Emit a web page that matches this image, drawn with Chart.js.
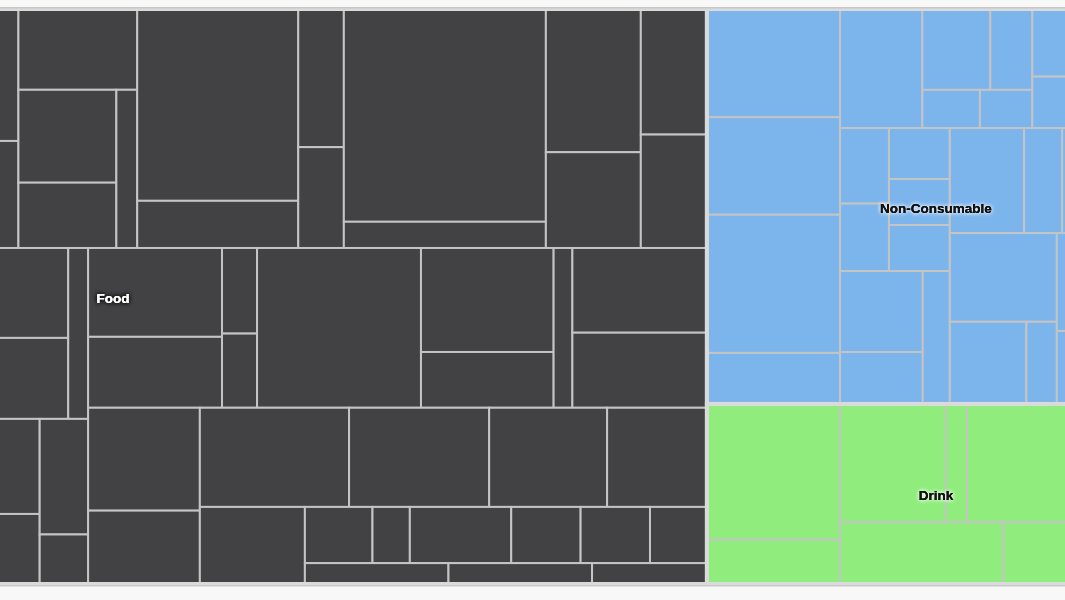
<!DOCTYPE html>
<html>
<head>
<meta charset="utf-8">
<script src="https://cdn.jsdelivr.net/npm/chart.js@4/dist/chart.umd.min.js"></script>
<style>
  html, body { margin: 0; padding: 0; background: #f8f8f8; }
  #wrap { width: 1065px; height: 600px; }
</style>
</head>
<body>
<div id="wrap"><canvas id="c" width="1065" height="600"></canvas></div>
<script>
// ---- Data (leaf values; nested arrays give the hierarchy, slice direction alternates by depth) ----
const groups = ['Food', 'Non-Consumable', 'Drink'];
const groupColors = ['#424245', '#7cb5ec', '#90ed7d'];

const foodTop = [
  [179, 177, 172],
  [257, 150],
  [143, 116],
  [96, [[91, 64], 33]],
  [309, 76],
  [63, 46],
  [430, 53],
  [136, 91],
  [83, 75]
];
const foodLowerLeft = [
  [[189, 206], 257, [151, 136], 34],
  [299, [146, 151], [152, 112], [56, 24]]
];
const foodLowerRight = [
  [[119, 95], [30, 26], 262, [138, 74], 30, [114, 101]],
  [[115, 82], [[148, 139, 117, 99], [81, [[38, 21, 57, 39, 39, 32], [30, 30, 24]]]]]
];
const nonConsumable = [
  [144, 130, 184, 68],
  [
    [98, [[55, 34], [22, 20]], [46, 35], 77],
    [
      [[[37, 33], [31, 28, 28]], [[67, 43], 36]],
      [[78, 40, 108], [[95, [63, 25]], [106, 79]]]
    ]
  ]
];
const drink = [
  [181, 59],
  [[125, 25, 157, 77], [101, 66, 34]]
];

const food = [foodTop, [foodLowerLeft, foodLowerRight]];
const groupNodes = [food, nonConsumable, drink];
const root = [food, [nonConsumable, drink]];

// visible (zoomed) window of the treemap, in layout units 0..1
const viewMin = 481 / 1646;
const viewMax = 1546 / 1646;

// ---- Layout (slice and dice) ----
function total(n) { return typeof n === 'number' ? n : n.reduce((a, c) => a + total(c), 0); }
const leaves = [];
const groupRects = [];
function layout(node, x0, y0, x1, y1, depth, g) {
  const gi = groupNodes.indexOf(node);
  if (gi >= 0) { g = gi; groupRects[gi] = { x0, y0, x1, y1 }; }
  if (typeof node === 'number') { leaves.push({ x0, y0, x1, y1, g, v: node }); return; }
  const t = total(node);
  let pos = depth % 2 === 0 ? x0 : y0;
  node.forEach(ch => {
    const f = total(ch) / t;
    if (depth % 2 === 0) {
      const e = pos + f * (x1 - x0);
      layout(ch, pos, y0, e, y1, depth + 1, g); pos = e;
    } else {
      const e = pos + f * (y1 - y0);
      layout(ch, x0, pos, x1, e, depth + 1, g); pos = e;
    }
  });
}
layout(root, 0, 0, 1, 1, 0, -1);

const treemapPlugin = {
  id: 'treemapDraw',
  beforeDatasetsDraw(chart) {
    const ctx = chart.ctx, xs = chart.scales.x, ys = chart.scales.y;
    const R = r => {
      const a = xs.getPixelForValue(r.x0), b = xs.getPixelForValue(r.x1);
      const c = ys.getPixelForValue(r.y0), d = ys.getPixelForValue(r.y1);
      return { l: Math.min(a, b), r: Math.max(a, b), t: Math.min(c, d), b: Math.max(c, d) };
    };
    ctx.save();
    const all = R({ x0: 0, y0: 0, x1: 1, y1: 1 });
    ctx.fillStyle = '#d4d4d4';
    ctx.fillRect(all.l, all.t - 2, all.r - all.l, all.b - all.t + 4);
    leaves.forEach(lf => {
      const p = R(lf);
      ctx.fillStyle = groupColors[lf.g];
      ctx.fillRect(p.l, p.t, p.r - p.l, p.b - p.t);
      ctx.strokeStyle = '#c4c4c4';
      ctx.lineWidth = 2;
      ctx.strokeRect(p.l, p.t, p.r - p.l, p.b - p.t);
    });
    groupRects.forEach(gr => {
      const p = R(gr);
      ctx.strokeStyle = '#dadada';
      ctx.lineWidth = 4;
      ctx.strokeRect(p.l, p.t, p.r - p.l, p.b - p.t);
    });
    ctx.fillStyle = '#c8c8c8';
    ctx.fillRect(all.l, all.t - 2, all.r - all.l, 1.5);
    ctx.fillRect(all.l, all.b + 1, all.r - all.l, 1.5);
    ctx.font = 'bold 13.5px "Liberation Sans", Arial, sans-serif';
    ctx.textAlign = 'center';
    ctx.textBaseline = 'middle';
    groupRects.forEach((gr, i) => {
      const p = R(gr);
      const cx = (p.l + p.r) / 2, cy = (p.t + p.b) / 2 + 2.5;
      const dark = i === 0;
      ctx.shadowColor = dark ? 'rgba(0,0,0,1)' : 'rgba(255,255,255,1)';
      ctx.shadowBlur = 4;
      ctx.fillStyle = dark ? '#ffffff' : '#111111';
      ctx.fillText(groups[i], cx, cy);
      ctx.fillText(groups[i], cx, cy);
      ctx.shadowBlur = 0;
      ctx.fillText(groups[i], cx, cy);
    });
    ctx.restore();
  }
};

new Chart(document.getElementById('c'), {
  type: 'scatter',
  data: { datasets: [{ label: 'Sales', data: [] }] },
  options: {
    responsive: false,
    animation: false,
    layout: { padding: { top: 9, bottom: 16, left: 0, right: 0 } },
    plugins: { legend: { display: false }, tooltip: { enabled: false } },
    scales: {
      x: { type: 'linear', display: false, min: viewMin, max: viewMax },
      y: { type: 'linear', display: false, min: 0, max: 1, reverse: true }
    }
  },
  plugins: [treemapPlugin]
});
</script>
</body>
</html>
